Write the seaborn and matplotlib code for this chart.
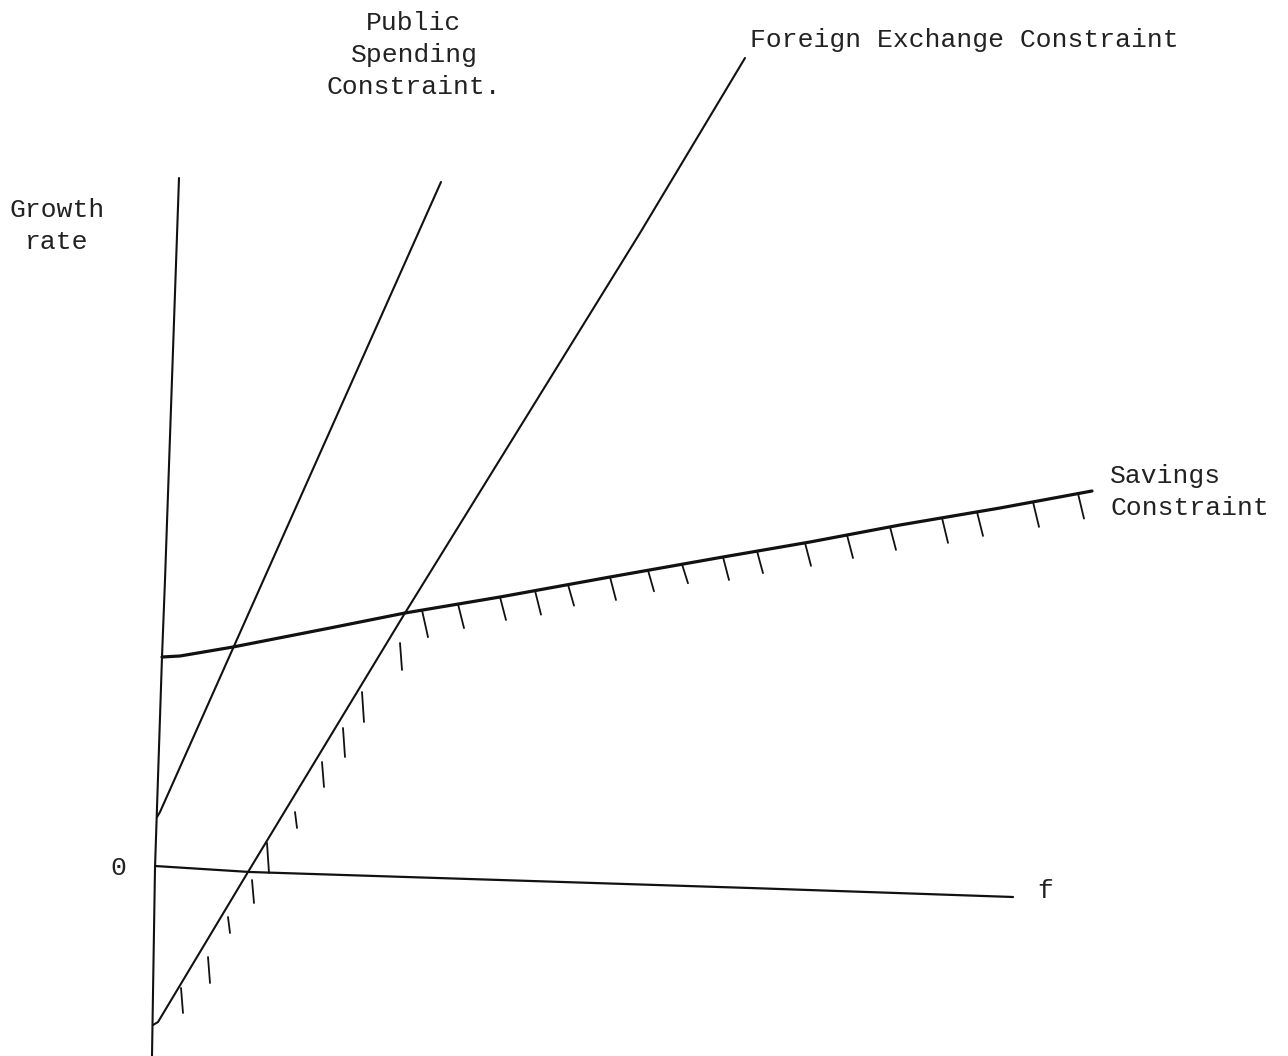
import matplotlib
matplotlib.use('Agg')
import matplotlib.pyplot as plt
import numpy as np
import pandas as pd
import seaborn as sns

# diagram units: pixels measured from the origin, y pointing up
growth_axis_x = [24, 10, 7, 0, -3]
growth_axis_y = [690, 288, 211, 0, -188]

f_axis_x = [0, 95, 345, 595, 858]
f_axis_y = [2, -4, -12, -20, -29]

savings_x = [7, 25, 78, 175, 250, 345, 455, 568, 655, 745, 845, 937]
savings_y = [211, 212, 221, 240, 255, 271, 291, 311, 326, 343, 360, 377]

public_x = [2, 5, 286]
public_y = [51, 56, 686]

foreign_x = [-2, 3, 93, 250, 485, 590]
foreign_y = [-157, -154, -4, 255, 635, 810]

# hatch marks hanging under the savings line (x of each mark) and their lengths
savings_marks = [267, 303, 345, 380, 413, 455, 493, 527, 568, 602, 650, 692, 735, 787, 822, 878, 923]
savings_mark_len = [27, 24, 23, 24, 21, 23, 21, 19, 23, 22, 23, 23, 23, 25, 24, 25, 25]

# hatch marks beside the foreign exchange line (top x, top y, length)
fx_marks_x = [245, 207, 188, 167, 140, 112, 97, 73, 53, 26]
fx_marks_y = [225, 176, 140, 106, 56, 25, -12, -49, -89, -120]
fx_mark_len = [27, 30, 29, 25, 16, 30, 23, 16, 26, 25]

sns.set_style('white')
plt.rcParams['font.family'] = ['Liberation Mono', 'DejaVu Sans Mono']

fig = plt.figure(figsize=(12.88, 10.56), dpi=100)
ax = fig.add_axes([0, 0, 1, 1])

ink = '#111111'
sns.lineplot(x=growth_axis_x, y=growth_axis_y, sort=False, estimator=None, color=ink, lw=1.5, ax=ax)
sns.lineplot(x=f_axis_x, y=f_axis_y, sort=False, estimator=None, color=ink, lw=1.6, ax=ax)
sns.lineplot(x=public_x, y=public_y, sort=False, estimator=None, color=ink, lw=1.5, ax=ax)
sns.lineplot(x=foreign_x, y=foreign_y, sort=False, estimator=None, color=ink, lw=1.5, ax=ax)
sns.lineplot(x=savings_x, y=savings_y, sort=False, estimator=None, color=ink, lw=2.3, ax=ax)

rows = []
tops = np.interp(savings_marks, savings_x, savings_y)
for i, (mx, my, ln) in enumerate(zip(savings_marks, tops, savings_mark_len)):
    rows.append({'mark': f's{i}', 'x': mx, 'y': my})
    rows.append({'mark': f's{i}', 'x': mx + 6, 'y': my - ln})
for i, (mx, my, ln) in enumerate(zip(fx_marks_x, fx_marks_y, fx_mark_len)):
    rows.append({'mark': f'f{i}', 'x': mx, 'y': my})
    rows.append({'mark': f'f{i}', 'x': mx + 2, 'y': my - ln})
marks = pd.DataFrame(rows)
sns.lineplot(data=marks, x='x', y='y', units='mark', estimator=None, sort=False,
             color=ink, lw=1.3, ax=ax)

txt = dict(fontsize=19, color='#222222', linespacing=1.42)
ax.text(-98, 642, 'Growth\nrate', ha='center', va='center', multialignment='center', **txt)
ax.text(259, 813, 'Public\nSpending\nConstraint.', ha='center', va='center', multialignment='center', **txt)
ax.text(595, 828, 'Foreign Exchange Constraint', ha='left', va='center', **txt)
ax.text(955, 376, 'Savings\nConstraint', ha='left', va='center', multialignment='left', **txt)
ax.text(-37, 0, '0', ha='center', va='center', **txt)
ax.text(890, -23, 'f', ha='center', va='center', **txt)

ax.set_xlim(-155, 1133)
ax.set_ylim(-188, 868)
ax.set_axis_off()

fig.savefig('out.png', dpi=100, facecolor='white')
